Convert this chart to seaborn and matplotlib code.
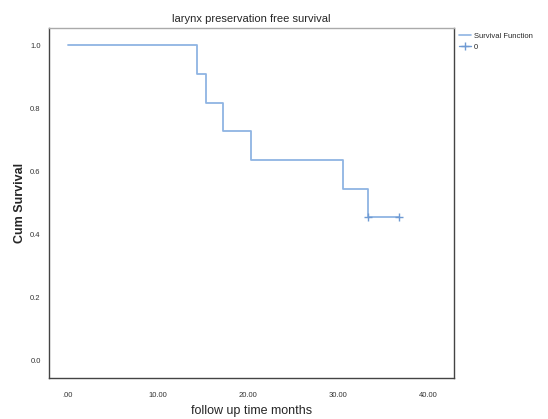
import matplotlib
matplotlib.use("Agg")
import matplotlib.pyplot as plt
import seaborn as sns
import pandas as pd
from matplotlib.lines import Line2D

# Data (Kaplan-Meier step function)
times = [0.0, 14.3, 15.3, 17.2, 20.3, 30.6, 33.4, 36.8]
survival = [1.0, 0.909, 0.818, 0.727, 0.636, 0.545, 0.455, 0.455]
censor_times = [33.4, 36.8]
censor_surv = [0.455, 0.455]
x_ticks = [0, 10, 20, 30, 40]
x_tick_labels = [".00", "10.00", "20.00", "30.00", "40.00"]
y_ticks = [0.0, 0.2, 0.4, 0.6, 0.8, 1.0]
y_tick_labels = ["0.0", "0.2", "0.4", "0.6", "0.8", "1.0"]

sns.set_style("white")
plt.rcParams['font.family'] = ['Liberation Sans', 'DejaVu Sans']

fig = plt.figure(figsize=(5.48, 4.19), dpi=100)
ax = fig.add_axes([49/548, 1-378/419, (454-49)/548, (378-28)/419])

df = pd.DataFrame({"t": times, "s": survival})
line_color = "#8fb4e3"
sns.lineplot(data=df, x="t", y="s", ax=ax, drawstyle="steps-post",
             color=line_color, linewidth=1.3, estimator=None)
dfc = pd.DataFrame({"t": censor_times, "s": censor_surv})
ax.plot(dfc["t"], dfc["s"], linestyle="none", marker="+", markersize=6,
        color="#6f9ad3", markeredgewidth=1.0)

ax.set_xlim(-2.1, 42.9)
ax.set_ylim(-0.054, 1.054)
ax.set_xticks(x_ticks)
ax.set_xticklabels(x_tick_labels, fontsize=5.5, color="#333333")
ax.set_yticks(y_ticks)
ax.set_yticklabels(y_tick_labels, fontsize=5.5, color="#333333")
ax.tick_params(axis="y", length=0, pad=6)
ax.tick_params(axis="x", length=0, pad=10)

ax.set_xlabel("follow up time months", fontsize=9)
ax.set_ylabel("Cum Survival", fontsize=9, fontweight="bold")
ax.xaxis.set_label_coords(0.5, (378-411)/350)
ax.yaxis.set_label_coords((20-49)/405, 0.5)
ax.xaxis.label.set_va("center")
ax.yaxis.label.set_va("center")
ax.set_title("larynx preservation free survival", fontsize=8, pad=4)

for side in ["left", "bottom", "right"]:
    ax.spines[side].set_color("#444444")
    ax.spines[side].set_linewidth(1.0)
ax.spines["top"].set_color("#aaaaaa")
ax.spines["top"].set_linewidth(1.0)

handles = [
    Line2D([0], [0], color=line_color, linewidth=1.2),
    Line2D([0], [0], color="#6f9ad3", linewidth=1.0, marker="+", markersize=6),
]
ax.legend(handles, ["Survival Function", "0"], loc="upper left",
          bbox_to_anchor=(1.0, 1.0), frameon=False, fontsize=5.5,
          handlelength=1.6, borderaxespad=0.2, handletextpad=0.4)

fig.savefig("out.png", dpi=100)
